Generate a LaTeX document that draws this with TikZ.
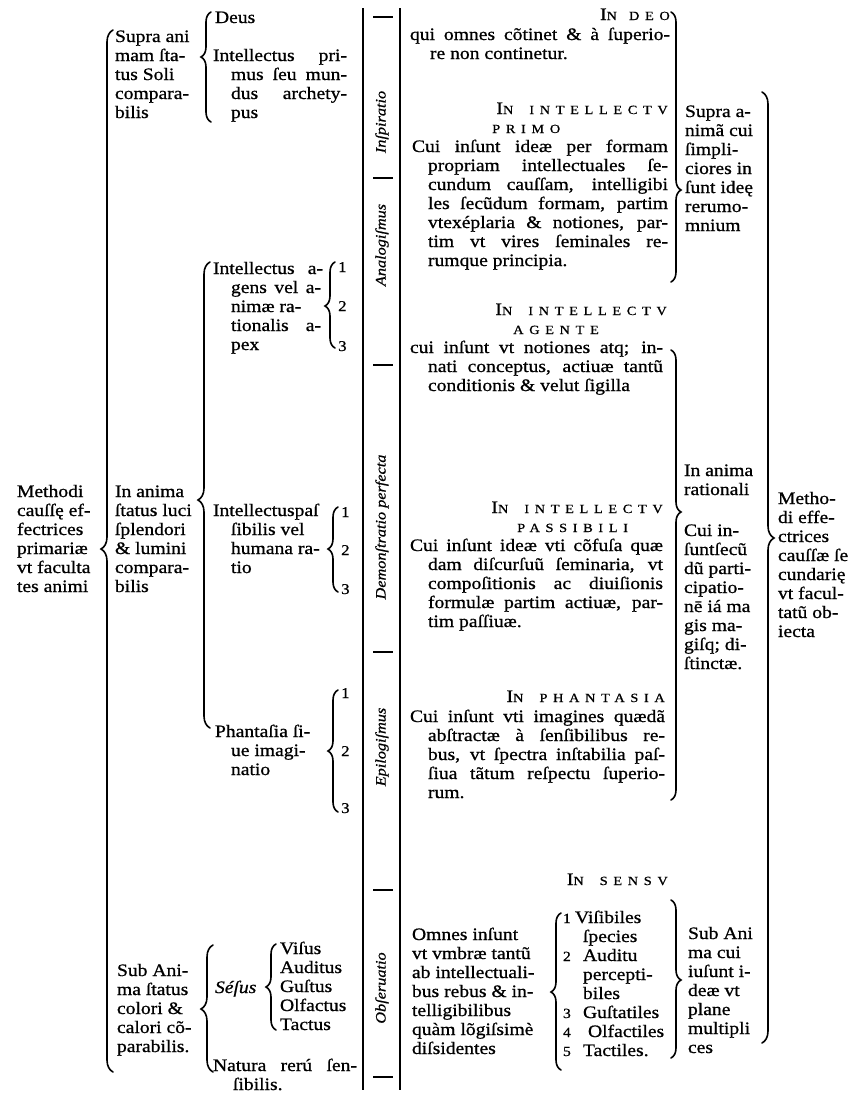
\documentclass[tikz,border=0pt]{standalone}
\usepackage{fontspec}
\setmainfont{Liberation Serif}[FakeStretch=1.12,FakeBold=0.8]
\newfontfamily\capsf{Liberation Serif}[FakeStretch=1.15,FakeBold=0.8,LetterSpace=45]
\usetikzlibrary{decorations.pathreplacing}
\newcommand\bodyf{\fontsize{17.5}{19}\selectfont}
\newcommand\JJ[2]{\makebox[#1pt][s]{#2}}
\newcommand\IN[1]{\hspace*{#1pt}}
\newcommand\Hd[2]{{\fontsize{17.5}{19}\selectfont #1}{\capsf\fontsize{12.5}{19}\selectfont #2}}
\newcommand\SC[1]{{\capsf\fontsize{12.5}{19}\selectfont #1}}
\newcommand\NN[1]{{\fontsize{14}{19}\selectfont #1}}
\newcommand\LBr[5]{%
 \pgfmathsetmacro\Baspect{(#3-#4)/(#3-#2)}%
 \pgfmathsetmacro\Bxpos{#1+#5/2}%
 \draw[brc,decorate,decoration={brace,amplitude=#5pt,aspect=\Baspect}] (\Bxpos,#3) -- (\Bxpos,#2);}
\newcommand\RBr[5]{%
 \pgfmathsetmacro\Baspect{(#4-#2)/(#3-#2)}%
 \pgfmathsetmacro\Bxpos{#1-#5/2}%
 \draw[brc,decorate,decoration={brace,amplitude=#5pt,aspect=\Baspect}] (\Bxpos,#2) -- (\Bxpos,#3);}
\tikzset{
 blk/.style={anchor=north west,inner sep=0pt,outer sep=0pt,align=left,font=\bodyf,yshift=13.3pt},
 hdr/.style={anchor=base east,inner sep=0pt,font=\bodyf},
 hdr2/.style={anchor=base west,inner sep=0pt,font=\bodyf},
 num/.style={anchor=base west,inner sep=0pt,font=\fontsize{15}{19}\selectfont},
 vlab/.style={rotate=90,inner sep=0pt,font=\fontsize{14.5}{16}\selectfont\itshape},
 brc/.style={line width=1.6pt,line cap=round},
 rulez/.style={line width=1.9pt},
 sepmark/.style={line width=1.7pt}
}
\begin{document}
\begin{tikzpicture}[x=1pt,y=-1pt]
\fill[white] (0,0) rectangle (867,1096);
\useasboundingbox (0,0) rectangle (867,1096);

% column 1
\node[blk] (meth) at (17,497) {\strut Methodi\\cauſſę ef-\\fectrices\\primariæ\\vt faculta\\tes animi};
\LBr{107}{30}{1072}{549}{12}

% column 2
\node[blk] (supra) at (115,42) {\strut Supra ani\\mam ſta-\\tus Soli\\compara-\\bilis};
\node[blk] (inanima) at (115,497) {\strut In anima\\ſtatus luci\\ſplendori\\\& lumini\\compara-\\bilis};
\node[blk] (subani) at (117,976) {\strut Sub Ani-\\ma ſtatus\\colori \&\\calori cõ-\\parabilis.};
\LBr{206}{12}{122}{57}{10}
\LBr{204}{262}{728}{500}{12}
\LBr{207}{945}{1072}{1009}{12}

\node[blk] (deus) at (215,23) {\strut Deus};
\node[blk] (iprim) at (213,61) {\strut\JJ{134}{Intellectus pri-}\\\IN{18}\JJ{116}{mus ſeu mun-}\\\IN{18}\JJ{116}{dus archety-}\\\IN{18}pus};
\node[blk] (iagens) at (213,274) {\strut\JJ{110}{Intellectus a-}\\\IN{18}\JJ{90}{gens vel a-}\\\IN{18}nimæ ra-\\\IN{18}\JJ{90}{tionalis a-}\\\IN{18}pex};
\node[blk] (ipass) at (213,516) {\strut Intellectuspaſ\\\IN{18}ſibilis vel\\\IN{18}humana ra-\\\IN{18}tio};
\node[blk] (phant) at (215,737) {\strut Phantaſia ſi-\\\IN{16}ue imagi-\\\IN{16}natio};
\LBr{330}{262}{348}{306}{10}
\LBr{333}{507}{592}{549}{10}
\LBr{333}{690}{812}{751}{10}
\node[num] (a1) at (338,272) {1};
\node[num] (a2) at (338,311) {2};
\node[num] (a3) at (338,351) {3};
\node[num] (p1) at (341,517) {1};
\node[num] (p2) at (341,555) {2};
\node[num] (p3) at (341,594) {3};
\node[num] (f1) at (341,698) {1};
\node[num] (f2) at (341,756) {2};
\node[num] (f3) at (341,813) {3};

\node[blk] (sensus) at (215,993) {\strut\textit{Séſus}};
\LBr{271}{944}{1030}{987}{10}
\node[blk] (visus) at (280,954) {\strut Viſus\\Auditus\\Guſtus\\Olfactus\\Tactus};
\node[blk] (natura) at (213,1071) {\strut\JJ{144}{Natura rerú ſen-}\\\IN{20}ſibilis.};

% column 3 : rules and vertical labels
\draw[rulez] (363,8) -- (363,1090);
\draw[rulez] (400,8) -- (400,1090);
\foreach \yy in {17,178,365,652,890,1077} \draw[sepmark] (373,\yy) -- (393,\yy);
\node[vlab] (lins) at (382,122) {Inſpiratio};
\node[vlab] (lana) at (382,245) {Analogiſmus};
\node[vlab] (ldem) at (382,527) {Demonſtratio perfecta};
\node[vlab] (lepi) at (382,747) {Epilogiſmus};
\node[vlab] (lobs) at (382,988) {Obſeruatio};

% column 4
\node[hdr] (hdeo) at (670,20) {\Hd{I}{N\hspace{12pt}DEO}};
\node[blk] (tdeo) at (410,40) {\strut\JJ{260}{qui omnes cõtinet \& à ſuperio-}\\\IN{20}re non continetur.};
\node[hdr] (hip) at (668,114) {\Hd{I}{N\hspace{16pt}INTELLECTV}};
\node[hdr2] (hip2) at (492,133) {\SC{PRIMO}};
\node[blk] (tip) at (412,152) {\strut\JJ{256}{Cui inſunt ideæ per formam}\\\IN{16}\JJ{240}{propriam intellectuales ſe-}\\\IN{16}\JJ{240}{cundum cauſſam, intelligibi}\\\IN{16}\JJ{240}{les ſecũdum formam, partim}\\\IN{16}\JJ{240}{vtexéplaria \& notiones, par-}\\\IN{16}\JJ{240}{tim vt vires ſeminales re-}\\\IN{16}rumque principia.};
\node[hdr] (hag) at (667,315) {\Hd{I}{N\hspace{16pt}INTELLECTV}};
\node[hdr2] (hag2) at (513,334) {\SC{AGENTE}};
\node[blk] (tag) at (410,353) {\strut\JJ{253}{cui inſunt vt notiones atq; in-}\\\IN{18}\JJ{235}{nati conceptus, actiuæ tantũ}\\\IN{18}conditionis \& velut ſigilla};
\node[hdr] (hpa) at (663,513) {\Hd{I}{N\hspace{16pt}INTELLECTV}};
\node[hdr2] (hpa2) at (517,532) {\SC{PASSIBILI}};
\node[blk] (tpa) at (410,551) {\strut\JJ{253}{Cui inſunt ideæ vti cõfuſa quæ}\\\IN{18}\JJ{235}{dam diſcurſuũ ſeminaria, vt}\\\IN{18}\JJ{235}{compoſitionis ac diuiſionis}\\\IN{18}\JJ{235}{formulæ partim actiuæ, par-}\\\IN{18}tim paſſiuæ.};
\node[hdr] (hph) at (665,702) {\Hd{I}{N\hspace{16pt}PHANTASIA}};
\node[blk] (tph) at (410,722) {\strut\JJ{255}{Cui inſunt vti imagines quædã}\\\IN{18}\JJ{237}{abſtractæ à ſenſibilibus re-}\\\IN{18}\JJ{237}{bus, vt ſpectra inſtabilia paſ-}\\\IN{18}\JJ{237}{ſiua tãtum reſpectu ſuperio-}\\\IN{18}rum.};
\node[hdr] (hse) at (668,885) {\Hd{I}{N\hspace{16pt}SENSV}};
\node[blk] (tom) at (412,940) {\strut Omnes inſunt\\vt vmbræ tantũ\\ab intellectuali-\\bus rebus \& in-\\telligibilibus\\quàm lõgiſsimè\\diſsidentes};
\LBr{556}{913}{1070}{992}{10}
\node[blk] (lst) at (563,923) {\strut\makebox[12pt][l]{\NN{1}}Viſibiles\\\IN{20}ſpecies\\\makebox[20pt][l]{\NN{2}}Auditu\\\IN{20}percepti-\\\IN{20}biles\\\makebox[20pt][l]{\NN{3}}Guſtatiles\\\makebox[25pt][l]{\NN{4}}Olfactiles\\\makebox[20pt][l]{\NN{5}}Tactiles.};

% column 5
\RBr{676}{12}{282}{190}{10}
\RBr{676}{350}{800}{512}{10}
\RBr{676}{900}{1058}{980}{10}
\node[blk] (tsa) at (685,117) {\strut Supra a-\\nimã cui\\ſimpli-\\ciores in\\ſunt ideę\\rerumo-\\mnium};
\node[blk] (tar) at (684,476) {\strut In anima\\rationali};
\node[blk] (tci) at (684,536) {\strut Cui in-\\ſuntſecũ\\dũ parti-\\cipatio-\\nē iá ma\\gis ma-\\giſq; di-\\ſtinctæ.};
\node[blk] (tsu) at (688,939) {\strut Sub Ani\\ma cui\\iuſunt i-\\deæ vt\\plane\\multipli\\ces};

% column 6
\RBr{768}{92}{1043}{538}{12}
\node[blk] (tme) at (778,504) {\strut Metho-\\di effe-\\ctrices\\cauſſæ ſe\\cundarię\\vt facul-\\tatũ ob-\\iecta};
\end{tikzpicture}
\end{document}
